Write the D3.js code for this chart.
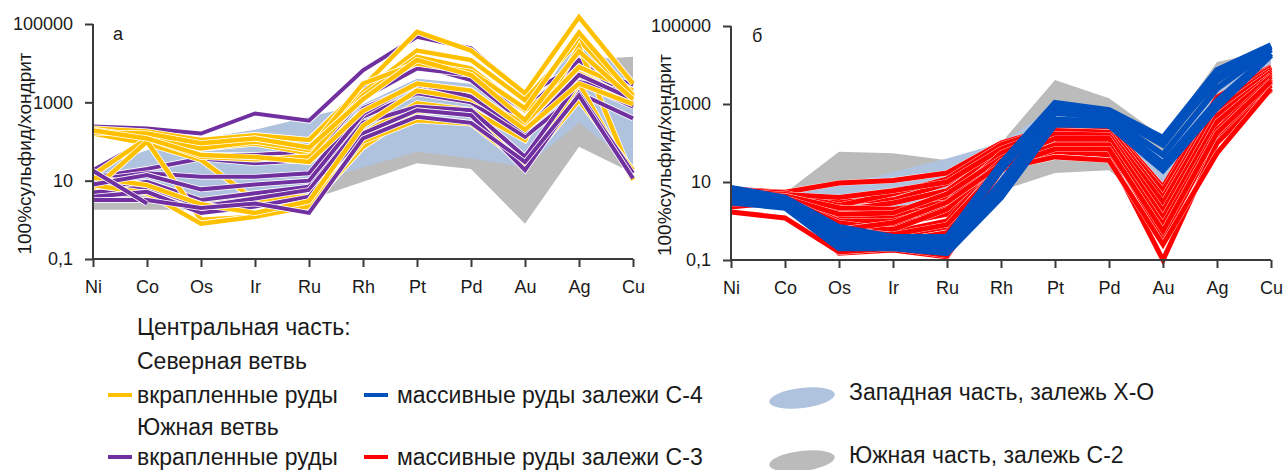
<!DOCTYPE html>
<html>
<head>
<meta charset="utf-8">
<script src="https://cdn.jsdelivr.net/npm/d3@7"></script>
<style>
  html, body { margin: 0; padding: 0; background: #fff; }
  svg { display: block; font-family: "Liberation Sans", Arial, sans-serif; }
</style>
</head>
<body>
<svg id="chart" width="1288" height="470"></svg>
<script>
// Chondrite-normalised (100% sulphide) element profiles
const elements = ["Ni", "Co", "Os", "Ir", "Ru", "Rh", "Pt", "Pd", "Au", "Ag", "Cu"];
const yTickValues = [0.1, 10, 1000, 100000];
const yTickLabels = ["0,1", "10", "1000", "100000"];
const yTitle = "100%сульфид/хондрит";

// Panel а — disseminated ores, northern branch (yellow)
const northDisseminated = [
  [215, 180, 109, 145, 109, 2500, 63000, 21000, 1700, 150000, 3000],
  [180, 140, 66, 89, 50, 1800, 21000, 12000, 1140, 39000, 1380],
  [160, 89, 34, 3.2, 4, 160, 940, 630, 109, 26000, 11],
  [14, 120, 41, 35, 41, 1500, 14500, 7300, 630, 5500, 1140],
  [5.8, 100, 1.0, 1.2, 2.2, 73, 600, 500, 22, 3000, 10.5],
  [7.7, 4.8, 0.8, 1.2, 2.2, 100, 350, 290, 25, 1140, 18.5],
  [12, 7.7, 2.5, 1.5, 3, 250, 2000, 1200, 300, 8000, 2000],
  [200, 130, 66, 100, 60, 3000, 9800, 6000, 700, 60000, 1500],
  [170, 160, 90, 120, 70, 1200, 12000, 5000, 350, 20000, 1200],
  [190, 120, 45, 40, 30, 600, 3000, 2000, 200, 3000, 900]
];

// Panel а — disseminated ores, southern branch (purple)
const southDisseminated = [
  [240, 215, 160, 520, 340, 6600, 47000, 24000, 1500, 9000, 2750],
  [18.5, 109, 45, 45, 55, 2500, 8900, 3700, 290, 13000, 2050],
  [12, 20, 37, 28, 34, 1300, 7300, 5000, 600, 12000, 940],
  [10.5, 15.5, 12.6, 12.6, 15.5, 700, 2750, 1380, 240, 3300, 770],
  [6.3, 9.4, 3.2, 4.8, 7, 430, 1700, 1000, 132, 1700, 390],
  [5, 7, 2.2, 3.5, 5.8, 300, 770, 630, 41, 3300, 1700],
  [3.9, 5.2, 1.5, 2.2, 3.9, 160, 630, 470, 18.5, 1700, 15.5],
  [3.2, 3.2, 2, 2.6, 1.5, 120, 430, 300, 30, 1500, 11.5],
  [8, 14, 6, 8, 10, 500, 3000, 1400, 180, 5000, 1200],
  [18, 2.6, null, null, null, null, null, null, null, null, null]
];

// Panel б — massive ores of the C-4 deposit (blue)
const massiveC4 = [
  [7, 4, 0.7, 0.39, 0.39, 30, 1070, 700, 135, 7400, 32000],
  [5.5, 3.5, 0.5, 0.3, 0.3, 20, 800, 550, 90, 5000, 28000],
  [4.5, 3, 0.35, 0.25, 0.22, 10, 600, 450, 50, 2500, 25000],
  [3.5, 2.5, 0.25, 0.22, 0.18, 6, 400, 350, 30, 1200, 20000],
  [3, 2.2, 0.2, 0.2, 0.15, 4, 300, 280, 20, 800, 18000],
  [6, 3.8, 0.6, 0.35, 0.25, 25, 950, 600, 110, 4000, 30000]
];

// Panel б — massive ores of the C-3 deposit (red)
const massiveC3 = [
  [6.5, 5.5, 9.4, 11, 17, 100, 260, 290, 7.4, 1500, 9000],
  [6, 5, 3.1, 3.5, 9, 80, 240, 250, 5, 1100, 8000],
  [5.5, 4.5, 1.9, 2.9, 6, 60, 220, 220, 3.5, 800, 7000],
  [5, 4.2, 1.3, 1.3, 4, 50, 200, 200, 2.5, 600, 6000],
  [4.5, 4, 1.0, 1.0, 2.3, 45, 180, 180, 2, 400, 5000],
  [4, 3.8, 0.7, 0.8, 1.5, 40, 150, 150, 1.5, 300, 4500],
  [3.5, 3.5, 0.5, 0.52, 1.0, 35, 120, 120, 1.0, 250, 4000],
  [3, 3.2, 0.4, 0.4, 0.7, 30, 100, 100, 0.7, 200, 3500],
  [2.5, 3, 0.3, 0.3, 0.5, 25, 80, 80, 0.39, 150, 3000],
  [2.3, 3.1, 0.15, 0.18, 0.12, 20, 60, 50, 0.1, 100, 2300],
  [1.7, 1.2, 0.16, 0.2, 0.13, 22, 44, 36, 0.25, 55, 2500],
  [6.2, 5.3, 2.5, 5, 12, 90, 250, 260, 6, 1200, 8500],
  [5.8, 4.8, 4, 6, 10, 70, 230, 240, 4, 900, 7500],
  [4.8, 4.4, 2.2, 2, 3, 55, 210, 190, 3, 700, 6500],
  [4.2, 3.9, 1.5, 1.6, 5, 40, 170, 160, 1.8, 500, 5500],
  [3.8, 3.6, 0.9, 0.6, 2, 35, 130, 130, 1.2, 350, 5000],
  [3.2, 3.3, 0.6, 0.9, 3, 28, 90, 90, 0.8, 220, 4200],
  [2.8, 3.0, 0.45, 0.45, 0.8, 24, 70, 70, 0.55, 180, 3800]
];

// Reference fields: western part (X-O deposit) and southern part (C-2 deposit)
const westFieldUpperA = [20, 60, 120, 200, 430, 900, 4000, 3000, 350, 50000, 3500];
const westFieldLowerA = [4.5, 4.5, 4, 5, 8, 22, 55, 37, 22, 300, 25];
const southFieldUpperA = [6, 6, 20, 30, 40, 200, 3000, 1500, 200, 12000, 14500];
const southFieldLowerA = [1.8, 1.8, 1.8, 2.4, 3.2, 9.4, 28, 20, 0.8, 73, 15.5];

const westFieldUpperB = [8, 6, 8, 18, 40, 100, 900, 600, 60, 3000, 18000];
const westFieldLowerB = [3, 3, 1.9, 1.6, 2.5, 15, 60, 60, 6, 200, 2300];
const southFieldUpperB = [7.5, 5.2, 60, 55, 36, 100, 4100, 1400, 140, 12000, 24000];
const southFieldLowerB = [2.5, 2.5, 1.5, 1.5, 3, 6, 17, 20, 1.5, 150, 3000];

// Legend entries
const legendHeaders = ["Центральная часть:", "Северная ветвь", "Южная ветвь"];
const legendLines = [
  { label: "вкрапленные руды", color: "#FFC000", row: 0, col: 0 },
  { label: "массивные руды залежи С-4", color: "#0050BE", row: 0, col: 1 },
  { label: "вкрапленные руды", color: "#7030A0", row: 1, col: 0 },
  { label: "массивные руды залежи С-3", color: "#FF0000", row: 1, col: 1 }
];
const legendFields = [
  { label: "Западная часть, залежь Х-О", color: "#AFC2DE" },
  { label: "Южная часть, залежь С-2", color: "#BBBBBB" }
];

const COLORS = {
  yellow: "#FFC000", purple: "#7030A0", blue: "#0050BE", red: "#FF0000",
  west: "#AFC2DE", south: "#BBBBBB", axis: "#3a3a3a", text: "#1a1a1a"
};

const svg = d3.select("#chart");

function drawPanel(opts) {
  const x = d3.scalePoint().domain(elements).range([opts.x0, opts.x1]);
  const y = d3.scaleLog().domain([0.1, 100000]).range([opts.yBottom, opts.yTop]);
  const g = svg.append("g");

  const area = (upper, lower) => d3.area()
    .x((d, i) => x(elements[i]))
    .y0((d, i) => y(lower[i]))
    .y1((d, i) => y(upper[i]))(upper);

  opts.fields.forEach(f => {
    g.append("path").attr("d", area(f.upper, f.lower)).attr("fill", f.color);
  });

  const line = d3.line()
    .defined(d => d != null)
    .x((d, i) => x(elements[i]))
    .y(d => y(d));

  opts.series.forEach(s => {
    if (s.halo > 0) {
      g.append("path").attr("d", line(s.values))
        .attr("fill", "none").attr("stroke", "#fff")
        .attr("stroke-width", s.width + s.halo).attr("stroke-linejoin", "miter");
    }
    g.append("path").attr("d", line(s.values))
      .attr("fill", "none").attr("stroke", s.color)
      .attr("stroke-width", s.width).attr("stroke-linejoin", "miter");
  });

  const yAxis = g.append("g")
    .attr("transform", `translate(${opts.x0},0)`)
    .call(d3.axisLeft(y).tickValues(yTickValues)
      .tickFormat((d, i) => yTickLabels[i]).tickSize(8).tickPadding(12));
  const xAxis = g.append("g")
    .attr("transform", `translate(0,${opts.yBottom})`)
    .call(d3.axisBottom(x).tickSize(8).tickPadding(13));

  [yAxis, xAxis].forEach(a => {
    a.select(".domain").attr("stroke", COLORS.axis).attr("stroke-width", 2);
    a.selectAll(".tick line").attr("stroke", COLORS.axis).attr("stroke-width", 2);
    a.selectAll(".tick text").attr("fill", COLORS.text)
      .style("font-size", "18px").style("font-family", '"Liberation Sans", Arial, sans-serif');
  });
  yAxis.select(".domain").attr("d", `M0,${opts.yBottom}V${opts.yTop}`);
  xAxis.select(".domain").attr("d", `M${opts.x0},0H${opts.x1}`);

  g.append("text")
    .attr("transform", `translate(${opts.titleX},${(opts.yTop + opts.yBottom) / 2 + 12}) rotate(-90)`)
    .attr("text-anchor", "middle").attr("dy", "0.35em")
    .attr("fill", COLORS.text).style("font-size", "19px").text(yTitle);

  g.append("text")
    .attr("x", opts.letterX).attr("y", opts.yTop + 10).attr("dy", "0.35em")
    .attr("fill", COLORS.text).style("font-size", "18px").text(opts.letter);
}

// Interleave purple and yellow profiles so neither colour sits entirely on top
const panelASeries = [];
const maxLen = Math.max(northDisseminated.length, southDisseminated.length);
for (let i = 0; i < maxLen; i++) {
  if (southDisseminated[i]) panelASeries.push({ values: southDisseminated[i], color: COLORS.purple, width: 4, halo: 1.6 });
  if (northDisseminated[i]) panelASeries.push({ values: northDisseminated[i], color: COLORS.yellow, width: 4.5, halo: 1.6 });
}

drawPanel({
  x0: 93, x1: 633, yTop: 24, yBottom: 259, titleX: 24, letter: "а", letterX: 113,
  fields: [
    { upper: southFieldUpperA, lower: southFieldLowerA, color: COLORS.south },
    { upper: westFieldUpperA, lower: westFieldLowerA, color: COLORS.west }
  ],
  series: panelASeries
});

drawPanel({
  x0: 731, x1: 1271, yTop: 26, yBottom: 260, titleX: 664, letter: "б", letterX: 752,
  fields: [
    { upper: southFieldUpperB, lower: southFieldLowerB, color: COLORS.south },
    { upper: westFieldUpperB, lower: westFieldLowerB, color: COLORS.west }
  ],
  series: [
    ...massiveC3.map(v => ({ values: v, color: COLORS.red, width: 5, halo: 0.6 })),
    ...massiveC4.map(v => ({ values: v, color: COLORS.blue, width: 6, halo: 0 }))
  ]
});

// Legend
const lg = svg.append("g").style("font-size", "23px").attr("fill", COLORS.text);
const headerRows = [327, 361, 427];
legendHeaders.forEach((t, i) => {
  lg.append("text").attr("x", 137).attr("y", headerRows[i]).attr("dy", "0.35em").text(t);
});
const lineRows = [395, 457];
const colX = [108, 364];
const colTextX = [137, 397];
legendLines.forEach(d => {
  const yy = lineRows[d.row], xx = colX[d.col];
  lg.append("line").attr("x1", xx).attr("x2", xx + 24).attr("y1", yy).attr("y2", yy)
    .attr("stroke", d.color).attr("stroke-width", 4);
  lg.append("text").attr("x", colTextX[d.col]).attr("y", yy).attr("dy", "0.35em").text(d.label);
});
const fieldRows = [392, 455];
legendFields.forEach((d, i) => {
  const yy = fieldRows[i];
  lg.append("ellipse").attr("cx", 802).attr("cy", yy + 6).attr("rx", 33).attr("ry", 10)
    .attr("transform", `rotate(-7,802,${yy + 6})`).attr("fill", d.color);
  lg.append("text").attr("x", 849).attr("y", yy).attr("dy", "0.35em").text(d.label);
});
</script>
</body>
</html>
